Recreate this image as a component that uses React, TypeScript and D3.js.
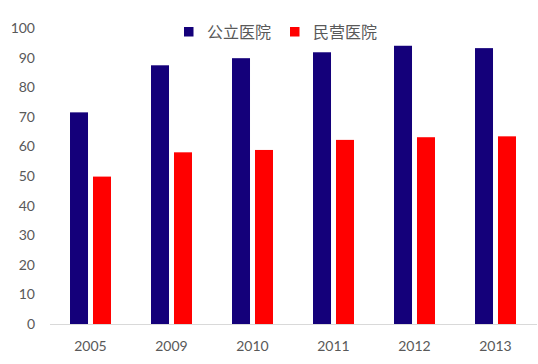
import React, { useEffect, useRef } from 'react';
import * as d3 from 'd3';

// years on the x axis
const years = ['2005', '2009', '2010', '2011', '2012', '2013'];
// series values
const publicHosp = [71.5, 87.4, 89.8, 91.8, 94.0, 93.2];
const privateHosp = [49.8, 58.0, 58.8, 62.2, 63.1, 63.4];
const seriesNames = ['公立医院', '民营医院'];
const seriesColors = ['#14007a', '#ff0000'];
const yTicks = [0, 10, 20, 30, 40, 50, 60, 70, 80, 90, 100];

const W = 538, H = 364;

export default function App() {
  const ref = useRef<SVGSVGElement>(null);

  useEffect(() => {
    const svg = d3.select(ref.current);
    svg.selectAll('*').remove();

    const margin = { top: 28, right: 2, bottom: 40, left: 50 };
    const x0 = d3.scaleBand().domain(years)
      .range([margin.left, W - margin.right])
      .paddingInner(0.494).paddingOuter(0.247);
    const x1 = d3.scaleBand().domain(seriesNames)
      .range([0, x0.bandwidth()]).paddingInner(0.217);
    const y = d3.scaleLinear().domain([0, 100]).range([H - margin.bottom, margin.top]);

    const data = years.map((yr, i) => ({ year: yr, values: [publicHosp[i], privateHosp[i]] }));

    // y tick labels
    svg.append('g').selectAll('text').data(yTicks).join('text')
      .attr('x', 35)
      .attr('y', d => y(d))
      .attr('dy', '0.35em')
      .attr('text-anchor', 'end')
      .attr('font-family', 'Lato, "Open Sans", sans-serif')
      .attr('font-size', 14)
      .attr('fill', '#595959')
      .text(d => d);

    // bars
    const groups = svg.append('g').selectAll('g').data(data).join('g')
      .attr('transform', d => `translate(${x0(d.year)},0)`);
    groups.selectAll('rect')
      .data(d => d.values.map((v, k) => ({ name: seriesNames[k], v, k })))
      .join('rect')
      .attr('x', d => x1(d.name)!)
      .attr('y', d => y(d.v))
      .attr('width', x1.bandwidth())
      .attr('height', d => y(0) - y(d.v))
      .attr('fill', d => seriesColors[d.k]);

    // x axis line
    svg.append('line')
      .attr('x1', margin.left).attr('x2', W - margin.right + 1)
      .attr('y1', y(0) + 0.5).attr('y2', y(0) + 0.5)
      .attr('stroke', '#d9d9d9');

    // x labels
    svg.append('g').selectAll('text').data(years).join('text')
      .attr('x', d => x0(d)! + x0.bandwidth() / 2)
      .attr('y', 351)
      .attr('text-anchor', 'middle')
      .attr('font-family', 'Lato, "Open Sans", sans-serif')
      .attr('font-size', 14)
      .attr('fill', '#595959')
      .text(d => d);

    // legend
    const legendX = [184, 290];
    const lg = svg.append('g').selectAll('g').data(seriesNames).join('g')
      .attr('transform', (d, i) => `translate(${legendX[i]},27)`);
    lg.append('rect').attr('width', 9.5).attr('height', 9.5)
      .attr('fill', (d, i) => seriesColors[i]);
    lg.append('text')
      .attr('x', 23).attr('y', 5)
      .attr('dy', '0.35em')
      .attr('font-family', '"Noto Sans CJK SC", sans-serif')
      .attr('font-size', 16)
      .attr('fill', '#595959')
      .text(d => d);
  }, []);

  return (
    <svg ref={ref} width={W} height={H}
      style={{ position: 'absolute', left: 0, top: 0, background: '#fff' }} />
  );
}
